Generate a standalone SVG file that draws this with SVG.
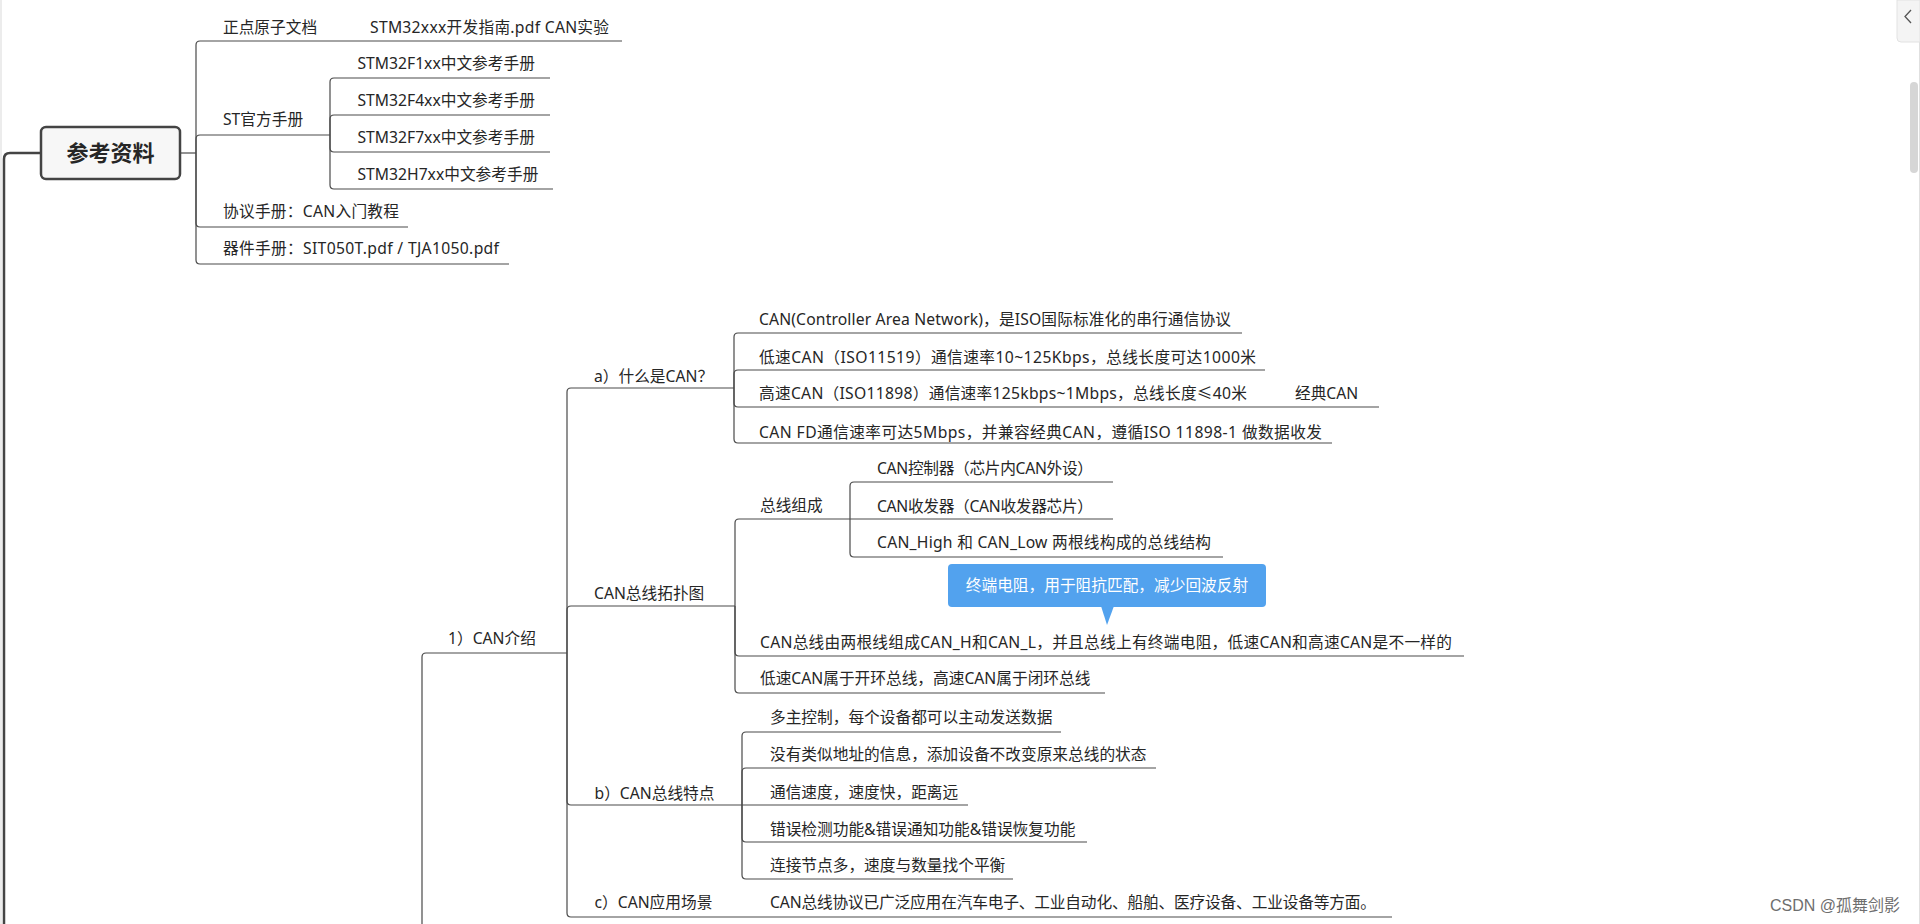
<svg xmlns="http://www.w3.org/2000/svg" width="1920" height="924" viewBox="0 0 1920 924">
<style>
.t{font-family:"Noto Sans","Noto Sans CJK SC",sans-serif;font-size:15.7px;fill:#262626}
.root{font-family:"Noto Sans CJK SC",sans-serif;font-size:22px;font-weight:bold;fill:#262626}
.lk{fill:none;stroke:#4a4a4a;stroke-width:1.2}
.lk2{fill:none;stroke:#444;stroke-width:2.5}
.wm{font-family:"Liberation Sans","Noto Sans CJK SC",sans-serif;font-size:16px;fill:#6e6e6e;stroke:#fff;stroke-width:2;paint-order:stroke}
</style>
<rect width="1920" height="924" fill="#fff"/>
<rect x="0" y="0" width="2" height="924" fill="#ececec"/>
<g id="connectors">
<path class="lk2" d="M4 924 V159 Q4 153 10 153 H41"/>
<path class="lk" d="M180 153 H196"/>
<path class="lk" d="M196 153 V45 Q196 41 200 41 H622"/>
<path class="lk" d="M196 153 V139 Q196 135 200 135 H330"/>
<path class="lk" d="M196 153 V223 Q196 227 200 227 H408"/>
<path class="lk" d="M196 153 V260 Q196 264 200 264 H509"/>
<path class="lk" d="M330 135 V82 Q330 78 334 78 H550"/>
<path class="lk" d="M330 135 V119 Q330 115 334 115 H550"/>
<path class="lk" d="M330 135 V148 Q330 152 334 152 H550"/>
<path class="lk" d="M330 135 V185 Q330 189 334 189 H553"/>
<path class="lk" d="M422 924 V657 Q422 653 426 653 H567"/>
<path class="lk" d="M567 653 V392 Q567 388 571 388 H734"/>
<path class="lk" d="M567 653 V610 Q567 606 571 606 H735"/>
<path class="lk" d="M567 653 V801 Q567 805 571 805 H742"/>
<path class="lk" d="M567 653 V913 Q567 917 571 917 H1392"/>
<path class="lk" d="M734 388 V337 Q734 333 738 333 H1242"/>
<path class="lk" d="M734 388 V374 Q734 370 738 370 H1265"/>
<path class="lk" d="M734 388 V403 Q734 407 738 407 H1379"/>
<path class="lk" d="M734 388 V439 Q734 443 738 443 H1332"/>
<path class="lk" d="M735 606 V523 Q735 519 739 519 H850"/>
<path class="lk" d="M735 606 V652 Q735 656 739 656 H1464"/>
<path class="lk" d="M735 606 V689 Q735 693 739 693 H1105"/>
<path class="lk" d="M850 519 V486 Q850 482 854 482 H1113"/>
<path class="lk" d="M850 519 H1113"/>
<path class="lk" d="M850 519 V553 Q850 557 854 557 H1223"/>
<path class="lk" d="M742 805 V736 Q742 732 746 732 H1061"/>
<path class="lk" d="M742 805 V772 Q742 768 746 768 H1156"/>
<path class="lk" d="M742 805 H968"/>
<path class="lk" d="M742 805 V838 Q742 842 746 842 H1087"/>
<path class="lk" d="M742 805 V875 Q742 879 746 879 H1013"/>
</g>
<g id="root">
<rect x="41" y="127" width="139" height="52" rx="5" fill="#f7f7f7" stroke="#444" stroke-width="2.5"/>
<text class="root" x="110.5" y="161" text-anchor="middle">参考资料</text>
</g>
<g id="n-zdyz"><text class="t" x="223" y="32.5">正点原子文档</text></g>
<g id="n-zdyz-doc"><text class="t" x="370" y="32.5" textLength="239" lengthAdjust="spacing">STM32xxx开发指南.pdf CAN实验</text></g>
<g id="n-st"><text class="t" x="223" y="125">ST官方手册</text></g>
<g id="n-f1"><text class="t" x="357.5" y="68.5">STM32F1xx中文参考手册</text></g>
<g id="n-f4"><text class="t" x="357.5" y="106">STM32F4xx中文参考手册</text></g>
<g id="n-f7"><text class="t" x="357.5" y="143">STM32F7xx中文参考手册</text></g>
<g id="n-h7"><text class="t" x="357.5" y="180">STM32H7xx中文参考手册</text></g>
<g id="n-proto"><text class="t" x="223" y="217" textLength="176" lengthAdjust="spacing">协议手册：CAN入门教程</text></g>
<g id="n-dev"><text class="t" x="223" y="254" textLength="276" lengthAdjust="spacing">器件手册：SIT050T.pdf / TJA1050.pdf</text></g>
<g id="n-can"><text class="t" x="448" y="644">1）CAN介绍</text></g>
<g id="n-a"><text class="t" x="594" y="382">a）什么是CAN？</text></g>
<g id="n-a1"><text class="t" x="759" y="325" textLength="472" lengthAdjust="spacing">CAN(Controller Area Network)，是ISO国际标准化的串行通信协议</text></g>
<g id="n-a2"><text class="t" x="759" y="363" textLength="497" lengthAdjust="spacing">低速CAN（ISO11519）通信速率10~125Kbps，总线长度可达1000米</text></g>
<g id="n-a3"><text class="t" x="759" y="399" textLength="488" lengthAdjust="spacing">高速CAN（ISO11898）通信速率125kbps~1Mbps，总线长度≤40米</text></g>
<g id="n-a3c"><text class="t" x="1295" y="399">经典CAN</text></g>
<g id="n-a4"><text class="t" x="759" y="438" textLength="563" lengthAdjust="spacing">CAN FD通信速率可达5Mbps，并兼容经典CAN，遵循ISO 11898-1 做数据收发</text></g>
<g id="n-topo"><text class="t" x="594" y="599">CAN总线拓扑图</text></g>
<g id="n-bus"><text class="t" x="760" y="511">总线组成</text></g>
<g id="n-bus1"><text class="t" x="877" y="474" textLength="216" lengthAdjust="spacing">CAN控制器（芯片内CAN外设）</text></g>
<g id="n-bus2"><text class="t" x="877" y="512" textLength="216" lengthAdjust="spacing">CAN收发器（CAN收发器芯片）</text></g>
<g id="n-bus3"><text class="t" x="877" y="548" textLength="334" lengthAdjust="spacing">CAN_High 和 CAN_Low 两根线构成的总线结构</text></g>
<g id="n-topo2"><text class="t" x="760" y="648" textLength="692" lengthAdjust="spacing">CAN总线由两根线组成CAN_H和CAN_L，并且总线上有终端电阻，低速CAN和高速CAN是不一样的</text></g>
<g id="n-topo3"><text class="t" x="760" y="684">低速CAN属于开环总线，高速CAN属于闭环总线</text></g>
<g id="callout">
<rect x="948" y="564" width="318" height="43" rx="4" fill="#52a2ee"/>
<path d="M1101 606 L1107 625 L1114 606 Z" fill="#52a2ee"/>
<text class="t" x="1107" y="591" text-anchor="middle" style="fill:#fff">终端电阻，用于阻抗匹配，减少回波反射</text>
</g>
<g id="n-b"><text class="t" x="594.5" y="799">b）CAN总线特点</text></g>
<g id="n-b1"><text class="t" x="770" y="723">多主控制，每个设备都可以主动发送数据</text></g>
<g id="n-b2"><text class="t" x="770" y="760">没有类似地址的信息，添加设备不改变原来总线的状态</text></g>
<g id="n-b3"><text class="t" x="770" y="798">通信速度，速度快，距离远</text></g>
<g id="n-b4"><text class="t" x="770" y="835">错误检测功能&amp;错误通知功能&amp;错误恢复功能</text></g>
<g id="n-b5"><text class="t" x="770" y="871">连接节点多，速度与数量找个平衡</text></g>
<g id="n-c"><text class="t" x="594.5" y="908">c）CAN应用场景</text></g>
<g id="n-c1"><text class="t" x="770" y="908" textLength="606" lengthAdjust="spacing">CAN总线协议已广泛应用在汽车电子、工业自动化、船舶、医疗设备、工业设备等方面。</text></g>
<g id="chrome">
<line x1="1919.5" y1="42" x2="1919.5" y2="924" stroke="#e0e0e0" stroke-width="1"/>
<path d="M1920 0 H1897 V38 Q1897 42 1901 42 H1920 Z" fill="#f4f4f4" stroke="#e2e2e2" stroke-width="1"/>
<path d="M1911 10 L1905 16.5 L1911 23" fill="none" stroke="#555" stroke-width="1.3"/>
<rect x="1910" y="82" width="8" height="91" rx="4" fill="#d6d6d6"/>
</g>
<text class="wm" x="1770" y="911">CSDN @孤舞剑影</text>
</svg>
